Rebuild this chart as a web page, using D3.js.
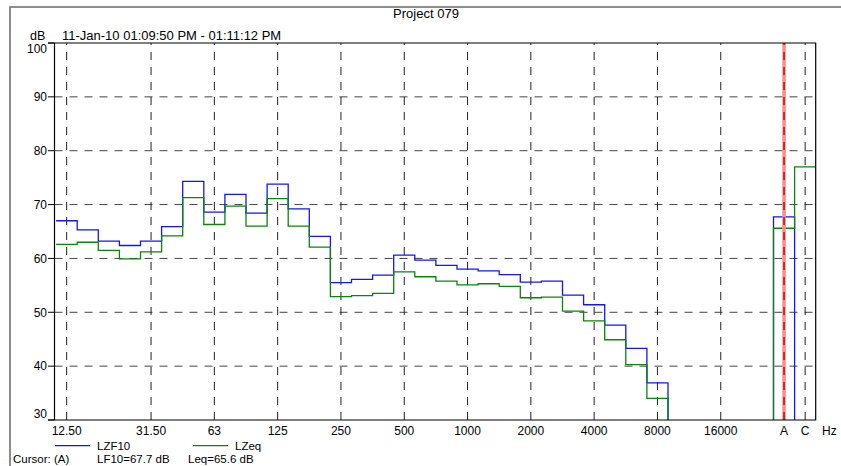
<!DOCTYPE html>
<html>
<head>
<meta charset="utf-8">
<script src="https://cdn.jsdelivr.net/npm/d3@7"></script>
<style>
  body { margin: 0; background: #fff; }
  svg { display: block; font-family: "Liberation Sans", Arial, sans-serif; }
</style>
</head>
<body>
<svg id="chart" width="841" height="466" viewBox="0 0 841 466"></svg>
<script>
// third-octave bands, then the two broadband values (A, C)
const bands = ["12.5", "16", "20", "25", "31.5", "40", "50", "63", "80", "100",
  "125", "160", "200", "250", "315", "400", "500", "630", "800", "1000",
  "1250", "1600", "2000", "2500", "3150", "4000", "5000", "6300", "8000", "10000",
  "12500", "16000", "20000", "", "A", "C"];

// null = below the 30 dB floor
const lzf10 = [67.0, 65.3, 63.2, 62.4, 63.2, 65.9, 74.3, 68.6, 71.9, 68.4,
  73.8, 69.2, 64.1, 55.5, 56.1, 56.9, 60.6, 59.7, 58.7, 58.0,
  57.7, 57.0, 55.6, 55.8, 53.2, 51.4, 47.6, 43.3, 36.9, null,
  null, null, null, null, 67.7, null];
const lzeq = [62.6, 63.0, 61.5, 59.9, 61.2, 64.2, 71.3, 66.3, 69.7, 66.0,
  71.1, 66.0, 62.1, 52.9, 53.1, 53.5, 57.5, 56.6, 55.8, 55.1,
  55.3, 54.8, 52.7, 52.8, 50.2, 48.4, 44.9, 40.3, 34.0, null,
  null, null, null, null, 65.6, 77.0];

const tickBands = ["12.5", "31.5", "63", "125", "250", "500", "1000", "2000", "4000", "8000", "16000", "A", "C"];
const tickText = ["12.50", "31.50", "63", "125", "250", "500", "1000", "2000", "4000", "8000", "16000", "A", "C"];
const yTicks = [30, 40, 50, 60, 70, 80, 90, 100];
const cursorBand = "A";

const svg = d3.select("#chart");
const plotLeft = 54.5, plotRight = 815.7, plotTop = 43, plotBottom = 420;

const x = d3.scaleBand().domain(bands).range([56.1, plotRight]).paddingInner(0).paddingOuter(0);
const y = d3.scaleLinear().domain([30, 100]).range([plotBottom, plotTop]);
const bw = x.bandwidth();
const cx = (b) => x(b) + bw / 2;

// outer frame
svg.append("path")
  .attr("d", "M10,466 V7 H841")
  .attr("fill", "none")
  .attr("stroke", "#6a6a6a")
  .attr("stroke-width", 1.5);

svg.append("text")
  .attr("x", 426).attr("y", 17.5)
  .attr("text-anchor", "middle")
  .attr("font-size", 13)
  .text("Project 079");

svg.append("text").attr("x", 30).attr("y", 40).attr("font-size", 12.5).text("dB");
svg.append("text").attr("x", 62).attr("y", 40).attr("font-size", 13)
  .text("11-Jan-10 01:09:50 PM - 01:11:12 PM");

// grid
const grid = svg.append("g");
grid.selectAll(".hgrid")
  .data(yTicks.filter((d) => d > 30 && d < 100))
  .enter()
  .append("line")
  .attr("x1", plotLeft).attr("x2", plotRight)
  .attr("y1", (d) => y(d)).attr("y2", (d) => y(d))
  .attr("stroke", "#444")
  .attr("stroke-dasharray", "8,7");

grid.selectAll(".vgrid")
  .data(tickBands)
  .enter()
  .append("line")
  .attr("x1", (d) => cx(d)).attr("x2", (d) => cx(d))
  .attr("y1", plotBottom).attr("y2", plotTop)
  .attr("stroke", "#222")
  .attr("stroke-dasharray", "8,7");

// stepped spectra
svg.append("clipPath").attr("id", "plot")
  .append("rect")
  .attr("x", plotLeft).attr("y", plotTop)
  .attr("width", plotRight - plotLeft).attr("height", plotBottom - plotTop);

const stepLine = d3.line();
function stepPoints(values) {
  const pts = [];
  bands.forEach((b, i) => {
    // below-floor bands drop out of the clip area
    const v = values[i] == null ? 20 : values[i];
    pts.push([x(b), y(v)], [x(b) + bw, y(v)]);
  });
  return pts;
}

const series = [
  { name: "LZF10", values: lzf10, color: "#1414f5" },
  { name: "LZeq", values: lzeq, color: "#0a850a" },
];

svg.append("g")
  .attr("clip-path", "url(#plot)")
  .selectAll("path")
  .data(series)
  .enter()
  .append("path")
  .attr("d", (s) => stepLine(stepPoints(s.values)))
  .attr("fill", "none")
  .attr("stroke", (s) => s.color)
  .attr("stroke-width", 1.3);

// cursor
svg.append("line")
  .attr("x1", cx(cursorBand)).attr("x2", cx(cursorBand))
  .attr("y1", plotTop).attr("y2", plotBottom)
  .attr("stroke", "#ff8a8a").attr("stroke-width", 3.5);
svg.append("line")
  .attr("x1", cx(cursorBand)).attr("x2", cx(cursorBand))
  .attr("y1", plotBottom).attr("y2", plotTop)
  .attr("stroke", "#b52a2a").attr("stroke-width", 1.8)
  .attr("stroke-dasharray", "8,7");

// axes and box
svg.append("path")
  .attr("d", `M${plotLeft},${plotTop} V${plotBottom} M48,${plotBottom} H${plotRight} V${plotTop} H48`)
  .attr("fill", "none")
  .attr("stroke", "#000")
  .attr("stroke-width", 1.2);

svg.selectAll(".ytick")
  .data(yTicks)
  .enter()
  .append("line")
  .attr("x1", 48).attr("x2", plotLeft)
  .attr("y1", (d) => y(d)).attr("y2", (d) => y(d))
  .attr("stroke", "#000");

svg.selectAll(".ylabel")
  .data(yTicks)
  .enter()
  .append("text")
  .attr("x", 47)
  .attr("y", (d) => (d === 100 ? 52.7 : d === 30 ? 418.3 : y(d) + 4.3))
  .attr("text-anchor", "end")
  .attr("font-size", 12)
  .text((d) => d);

svg.selectAll(".xlabel")
  .data(tickBands)
  .enter()
  .append("text")
  .attr("x", (d) => cx(d))
  .attr("y", 435)
  .attr("text-anchor", "middle")
  .attr("font-size", 12)
  .text((d, i) => tickText[i]);

svg.append("text").attr("x", 822).attr("y", 435).attr("font-size", 12).text("Hz");

// legend
const legendX = [55, 193];
series.forEach((s, i) => {
  svg.append("line")
    .attr("x1", legendX[i]).attr("x2", legendX[i] + 35)
    .attr("y1", 445.7).attr("y2", 445.7)
    .attr("stroke", s.color).attr("stroke-width", 1.3);
  svg.append("text")
    .attr("x", legendX[i] + 42).attr("y", 450)
    .attr("font-size", 11.5)
    .text(s.name);
});

const cursorA = bands.indexOf(cursorBand);
const cursorParts = [
  { x: 13, t: "Cursor: (A)" },
  { x: 97, t: `LF10=${lzf10[cursorA].toFixed(1)} dB` },
  { x: 188, t: `Leq=${lzeq[cursorA].toFixed(1)} dB` },
];
svg.selectAll(".cursor")
  .data(cursorParts)
  .enter()
  .append("text")
  .attr("x", (d) => d.x).attr("y", 463)
  .attr("font-size", 11.5)
  .text((d) => d.t);
</script>
</body>
</html>
